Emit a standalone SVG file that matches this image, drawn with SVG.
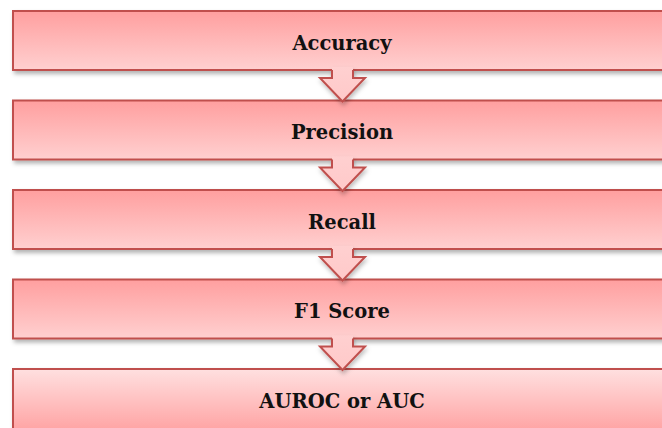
<svg xmlns="http://www.w3.org/2000/svg" width="662" height="428" viewBox="0 0 662 428">
  <defs>
    <linearGradient id="gDown" x1="0" y1="0" x2="0" y2="1">
      <stop offset="0" stop-color="#ff9f9f"/>
      <stop offset="1" stop-color="#ffd0d0"/>
    </linearGradient>
    <linearGradient id="gUp" x1="0" y1="0" x2="0" y2="1">
      <stop offset="0" stop-color="#ffe0e0"/>
      <stop offset="1" stop-color="#ffa3a3"/>
    </linearGradient>
    <linearGradient id="gArrow" x1="0" y1="0" x2="0" y2="1">
      <stop offset="0" stop-color="#ffd0d0"/>
      <stop offset="1" stop-color="#ffc9c9"/>
    </linearGradient>
    <filter id="shadow" x="-5%" y="-20%" width="115%" height="160%">
      <feDropShadow dx="2" dy="3" stdDeviation="2" flood-color="#000" flood-opacity="0.3"/>
    </filter>
    <filter id="ashadow" x="-30%" y="-30%" width="160%" height="160%">
      <feDropShadow dx="1" dy="3" stdDeviation="2" flood-color="#000" flood-opacity="0.25"/>
    </filter>
  </defs>
  <style>
    .box { stroke: #c0504d; stroke-width: 2; filter: url(#shadow); }
    .lbl { font-family: "DejaVu Serif", "Liberation Serif", serif; font-weight: bold; font-size: 19.5px; fill: #111; text-anchor: middle; }
    .afill { fill: url(#gArrow); stroke: none; }
    .aline { fill: none; stroke: #c0504d; stroke-width: 2; stroke-linejoin: miter; }
    .arrow { filter: url(#ashadow); }
  </style>
  <rect width="662" height="428" fill="#ffffff"/>

  <g id="node-accuracy">
    <rect class="box" x="13" y="11" width="658" height="59" fill="url(#gDown)"/>
    <text class="lbl" x="342" y="49.5">Accuracy</text>
  </g>
  <g id="node-precision">
    <rect class="box" x="13" y="100.5" width="658" height="59" fill="url(#gDown)"/>
    <text class="lbl" x="342" y="139">Precision</text>
  </g>
  <g id="node-recall">
    <rect class="box" x="13" y="190" width="658" height="59" fill="url(#gDown)"/>
    <text class="lbl" x="342" y="228.5">Recall</text>
  </g>
  <g id="node-f1">
    <rect class="box" x="13" y="279.5" width="658" height="59" fill="url(#gDown)"/>
    <text class="lbl" x="342" y="318">F1 Score</text>
  </g>
  <g id="node-auroc">
    <rect class="box" x="13" y="369" width="658" height="62" fill="url(#gUp)"/>
    <text class="lbl" x="342" y="407.5">AUROC or AUC</text>
  </g>

  <g id="connectors">
    <g id="arrow-1" class="arrow">
      <path class="afill" d="M332,67 L332,78 L320,78 L342.5,101.5 L365,78 L353,78 L353,67 Z"/>
      <path class="aline" d="M332,70 L332,78 L320,78 L342.5,101.5 L365,78 L353,78 L353,70"/>
    </g>
    <g id="arrow-2" class="arrow">
      <path class="afill" d="M332,156.5 L332,167.5 L320,167.5 L342.5,191 L365,167.5 L353,167.5 L353,156.5 Z"/>
      <path class="aline" d="M332,159.5 L332,167.5 L320,167.5 L342.5,191 L365,167.5 L353,167.5 L353,159.5"/>
    </g>
    <g id="arrow-3" class="arrow">
      <path class="afill" d="M332,246 L332,257 L320,257 L342.5,280.5 L365,257 L353,257 L353,246 Z"/>
      <path class="aline" d="M332,249 L332,257 L320,257 L342.5,280.5 L365,257 L353,257 L353,249"/>
    </g>
    <g id="arrow-4" class="arrow">
      <path class="afill" d="M332,335.5 L332,346.5 L320,346.5 L342.5,370 L365,346.5 L353,346.5 L353,335.5 Z"/>
      <path class="aline" d="M332,338.5 L332,346.5 L320,346.5 L342.5,370 L365,346.5 L353,346.5 L353,338.5"/>
    </g>
  </g>
</svg>
